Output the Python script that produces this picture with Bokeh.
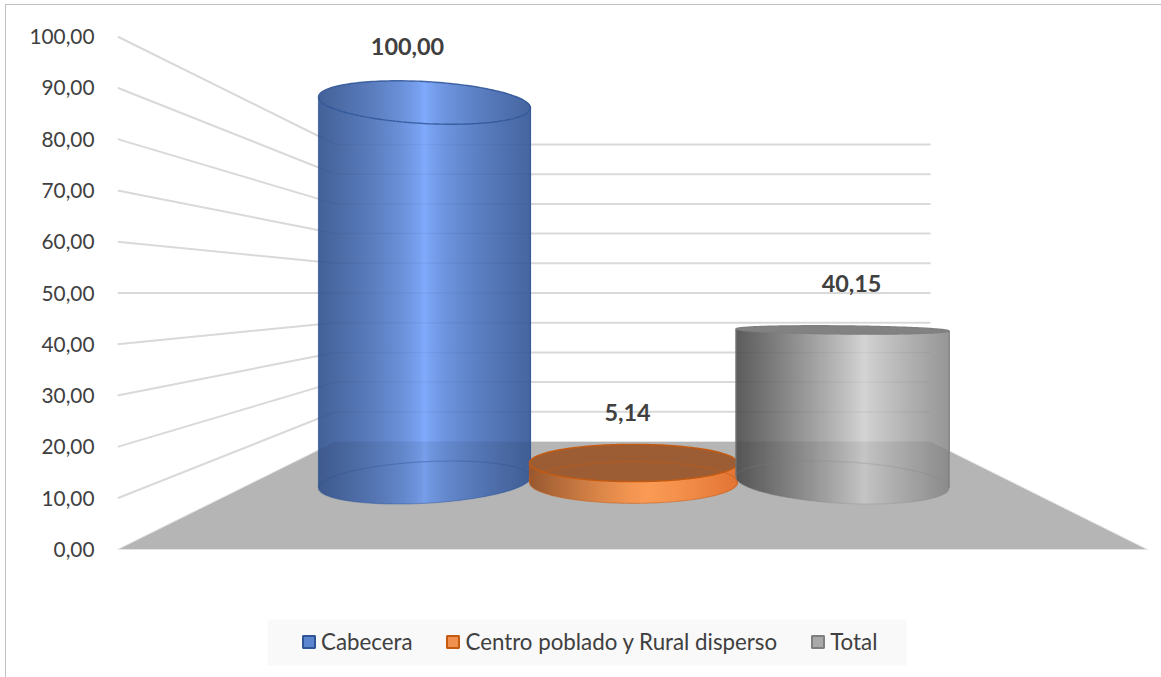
import numpy as np
from bokeh.plotting import figure
from bokeh.embed import file_html
from bokeh.resources import INLINE
from bokeh.models import FixedTicker, Legend, LegendItem, BoxAnnotation
from bokeh.core.properties import value

# ---------- data ----------
categories = ["Cabecera", "Centro poblado y Rural disperso", "Total"]
values = [100.00, 5.14, 40.15]
value_labels = ["100,00", "5,14", "40,15"]
tick_values = [0, 10, 20, 30, 40, 50, 60, 70, 80, 90, 100]
tick_labels = ["0,00", "10,00", "20,00", "30,00", "40,00", "50,00", "60,00", "70,00", "80,00", "90,00", "100,00"]

# ---------- styles ----------
FONT = "Lato"
TXT = "#404040"
edge_colors = ["#2f5597", "#c55a11", "#7f7f7f"]
swatch_colors = ["#5b85ce", "#f0904f", "#a9a9a9"]
top_colors = [None, "#9c5b31", "#808080"]
ramp_dark = [(68, 98, 152), (150, 88, 48), (92, 92, 92)]
ramp_light = [(130, 172, 255), (250, 154, 84), (212, 212, 212)]
ramp_right = [(70, 102, 160), (226, 116, 52), (150, 150, 150)]
ramp_peak = [0.50, 0.56, 0.60]
ramp_pow = [1.5, 0.8, 1.1]
floor_veil = [0.07, 0.0, 0.07]
base_alpha = [0.4, 0.45, 0.25]

# ---------- projection (page px <-> value scale) ----------
PX0, PPU = 549.0, 5.13          # wall: value 0 at y=549, 5.13 px per unit
FRAME_L, FRAME_R, FRAME_T, FRAME_B = 117, 1157, 5, 672
def to_val(ypx):
    return (PX0 - np.asarray(ypx, dtype=float)) / PPU

BASE_Y, BAR_PPU = 482.0, 3.8    # cylinder axis: baseline and px per unit
BACK_Y, BACK_PPU = 441.0, 2.97  # back plane
EYE_Y, CX0 = 293.0, 633.0
centers = [424.0, 633.0, 842.0]
half_w = [106.0, 104.0, 106.5]
label_dx = [-17, -6, 9]
label_dy = [56, 50, 46]
GRID_X = [117, 335, 930]
FLOOR_X = [117, 1147, 930, 335]
FLOOR_Y = [549, 549, BACK_Y, BACK_Y]

BORDER = "linear-gradient(#bfbfbf,#bfbfbf)"
p = figure(width=1161, height=677, output_backend="svg", toolbar_location=None,
           x_range=(FRAME_L, FRAME_R), y_range=(float(to_val(FRAME_B)), float(to_val(FRAME_T))),
           min_border_left=FRAME_L, min_border_right=1161 - FRAME_R,
           min_border_top=FRAME_T, min_border_bottom=677 - FRAME_B,
           margin=(0, 0, 0, 0), outline_line_color=None,
           background_fill_color="white", border_fill_color=None,
           styles={"background-image": f"{BORDER},{BORDER}",
                   "background-size": "1156px 1px,1px 673px",
                   "background-position": "5px 4px,5px 4px",
                   "background-repeat": "no-repeat"})
p.xgrid.visible = False
p.ygrid.visible = False
p.xaxis.visible = False

ax = p.yaxis[0]
ax.ticker = FixedTicker(ticks=tick_values)
ax.major_label_overrides = {v: s for v, s in zip(tick_values, tick_labels)}
ax.axis_line_color = None
ax.major_tick_line_color = None
ax.minor_tick_line_color = None
ax.major_label_standoff = 17
ax.major_label_text_font = FONT
ax.major_label_text_font_size = "20.8px"
ax.major_label_text_color = TXT

# legend band
p.add_layout(BoxAnnotation(left=267, right=906, top=619, bottom=665, left_units="canvas", right_units="canvas",
                           top_units="canvas", bottom_units="canvas", fill_color="#f9f9f9", fill_alpha=1,
                           line_color=None, level="underlay"))

# floor
p.patch(FLOOR_X, to_val(FLOOR_Y), fill_color="#b5b5b5", line_color="#e4e4e4", line_width=1)

# gridlines on side and back walls
def back_y(v):
    return BACK_Y - BACK_PPU * v
p.multi_line(xs=[GRID_X for v in tick_values[1:]],
             ys=[[v, float(to_val(back_y(v))), float(to_val(back_y(v)))] for v in tick_values[1:]],
             line_color="#d9d9d9", line_width=2)


def arc(x, cx, a, yc, sign=1):
    """Front (sign=1) or back (sign=-1) edge of the projected ellipse of a cylinder section."""
    u = (x - cx) / a
    ry = 0.11 * abs(yc - EYE_Y)
    tilt = 1.38e-4 * (yc - EYE_Y) * (cx - CX0)
    return yc + tilt * u + sign * ry * np.sqrt(np.clip(1 - u * u, 0, 1))


def ellipse(cx, a, yc):
    t = np.linspace(0, 2 * np.pi, 181)
    ry = 0.11 * abs(yc - EYE_Y)
    tilt = 1.38e-4 * (yc - EYE_Y) * (cx - CX0)
    return cx + a * np.cos(t), yc + tilt * np.cos(t) + ry * np.sin(t)


def ramp(i, xc):
    f = (xc - (centers[i] - half_w[i])) / (2 * half_w[i])
    pk = ramp_peak[i]
    if f < pk:
        s, end = 1 - f / pk, ramp_dark[i]
    else:
        s, end = (f - pk) / (1 - pk), ramp_right[i]
    s = min(max(s, 0), 1) ** (1 / ramp_pow[i])
    top = ramp_light[i]
    return "#%02x%02x%02x" % tuple(int(round(top[k] + (end[k] - top[k]) * s)) for k in range(3))


def floor_edge(x):
    # upper edge of the floor polygon, in page px
    left = np.interp(x, [117, 335], [549, BACK_Y])
    right = np.interp(x, [930, 1147], [BACK_Y, 549])
    return np.maximum(np.maximum(left, right), BACK_Y)


renderers = []
for i, v in enumerate(values):
    cx, a = centers[i], half_w[i]
    yt = BASE_Y - BAR_PPU * v
    x_edges = np.arange(np.floor(cx - a), np.ceil(cx + a) + 1, 1.0)
    x0, x1 = x_edges[:-1], x_edges[1:]
    xm = np.clip((x0 + x1) / 2, cx - a, cx + a)
    cols = [ramp(i, m) for m in xm]
    # body strips, from the front arc of the top section to the front arc of the base
    p.quad(left=x0, right=x1 + 0.5, top=to_val(arc(xm, cx, a, yt)), bottom=to_val(arc(xm, cx, a, BASE_Y)),
           fill_color=cols, line_color=None)
    # floor seen through the body
    xs = np.linspace(cx - a, cx + a, 90)
    upper = np.maximum(floor_edge(xs), arc(xs, cx, a, yt))
    lower = arc(xs, cx, a, BASE_Y)
    p.patch(np.r_[xs, xs[::-1]], to_val(np.r_[upper, lower[::-1]]), fill_color="#000000",
            fill_alpha=floor_veil[i], line_color=None)
    # gridlines seen through the body
    for tv in tick_values[1:]:
        gy = np.interp(xs, GRID_X, [PX0 - PPU * tv, back_y(tv), back_y(tv)])
        gy = np.where(xs > GRID_X[-1], np.nan, gy)
        gy = np.where((gy < arc(xs, cx, a, yt)) | (gy > lower), np.nan, gy)
        p.line(xs, to_val(gy), line_color="#000000", line_alpha=0.04, line_width=1.5)
    # base outline (shows through)
    ex, ey = ellipse(cx, a, BASE_Y)
    # top face
    tx, ty = ellipse(cx, a, yt)
    if top_colors[i] is None:
        p.quad(left=x0, right=x1 + 0.5, top=to_val(arc(xm, cx, a, yt, -1)), bottom=to_val(arc(xm, cx, a, yt)),
               fill_color=cols, line_color=None)
        p.line(tx, to_val(ty), line_color=edge_colors[i], line_width=1.4, line_alpha=0.85)
    else:
        p.patch(tx, to_val(ty), fill_color=top_colors[i], fill_alpha=0.98, line_color=edge_colors[i], line_width=1.4)
    p.line(ex, to_val(ey), line_color=edge_colors[i], line_alpha=base_alpha[i], line_width=1.2)
    # sides
    p.segment(x0=[cx - a, cx + a], x1=[cx - a, cx + a],
              y0=to_val([arc(cx - a, cx, a, yt), arc(cx + a, cx, a, yt)]),
              y1=to_val([arc(cx - a, cx, a, BASE_Y), arc(cx + a, cx, a, BASE_Y)]),
              line_color=edge_colors[i], line_width=1.2, line_alpha=0.7)
    renderers.append(p.quad(left=[np.nan], right=[np.nan], top=[np.nan], bottom=[np.nan], fill_color=swatch_colors[i],
                            line_color=edge_colors[i], line_width=2))

# value labels
lab_x = [c + d for c, d in zip(centers, label_dx)]
lab_y = [float(to_val(BASE_Y - BAR_PPU * v - d)) for v, d in zip(values, label_dy)]
p.text(lab_x, lab_y, text=value_labels, text_font=value(FONT), text_font_style="bold", text_font_size="23.4px",
       text_color=TXT, text_align="center", text_baseline="middle")

legend = Legend(items=[LegendItem(label=c, renderers=[r]) for c, r in zip(categories, renderers)],
                orientation="horizontal", location=(301 - FRAME_L, 677 - FRAME_B + 17 - 5),
                background_fill_alpha=0, border_line_color=None, margin=0, padding=0, spacing=33,
                glyph_width=15, glyph_height=15, label_standoff=5,
                label_text_font=FONT, label_text_font_size="22.3px", label_text_color=TXT)
p.add_layout(legend, "center")

open("out.html", "w").write(file_html(p, INLINE))
